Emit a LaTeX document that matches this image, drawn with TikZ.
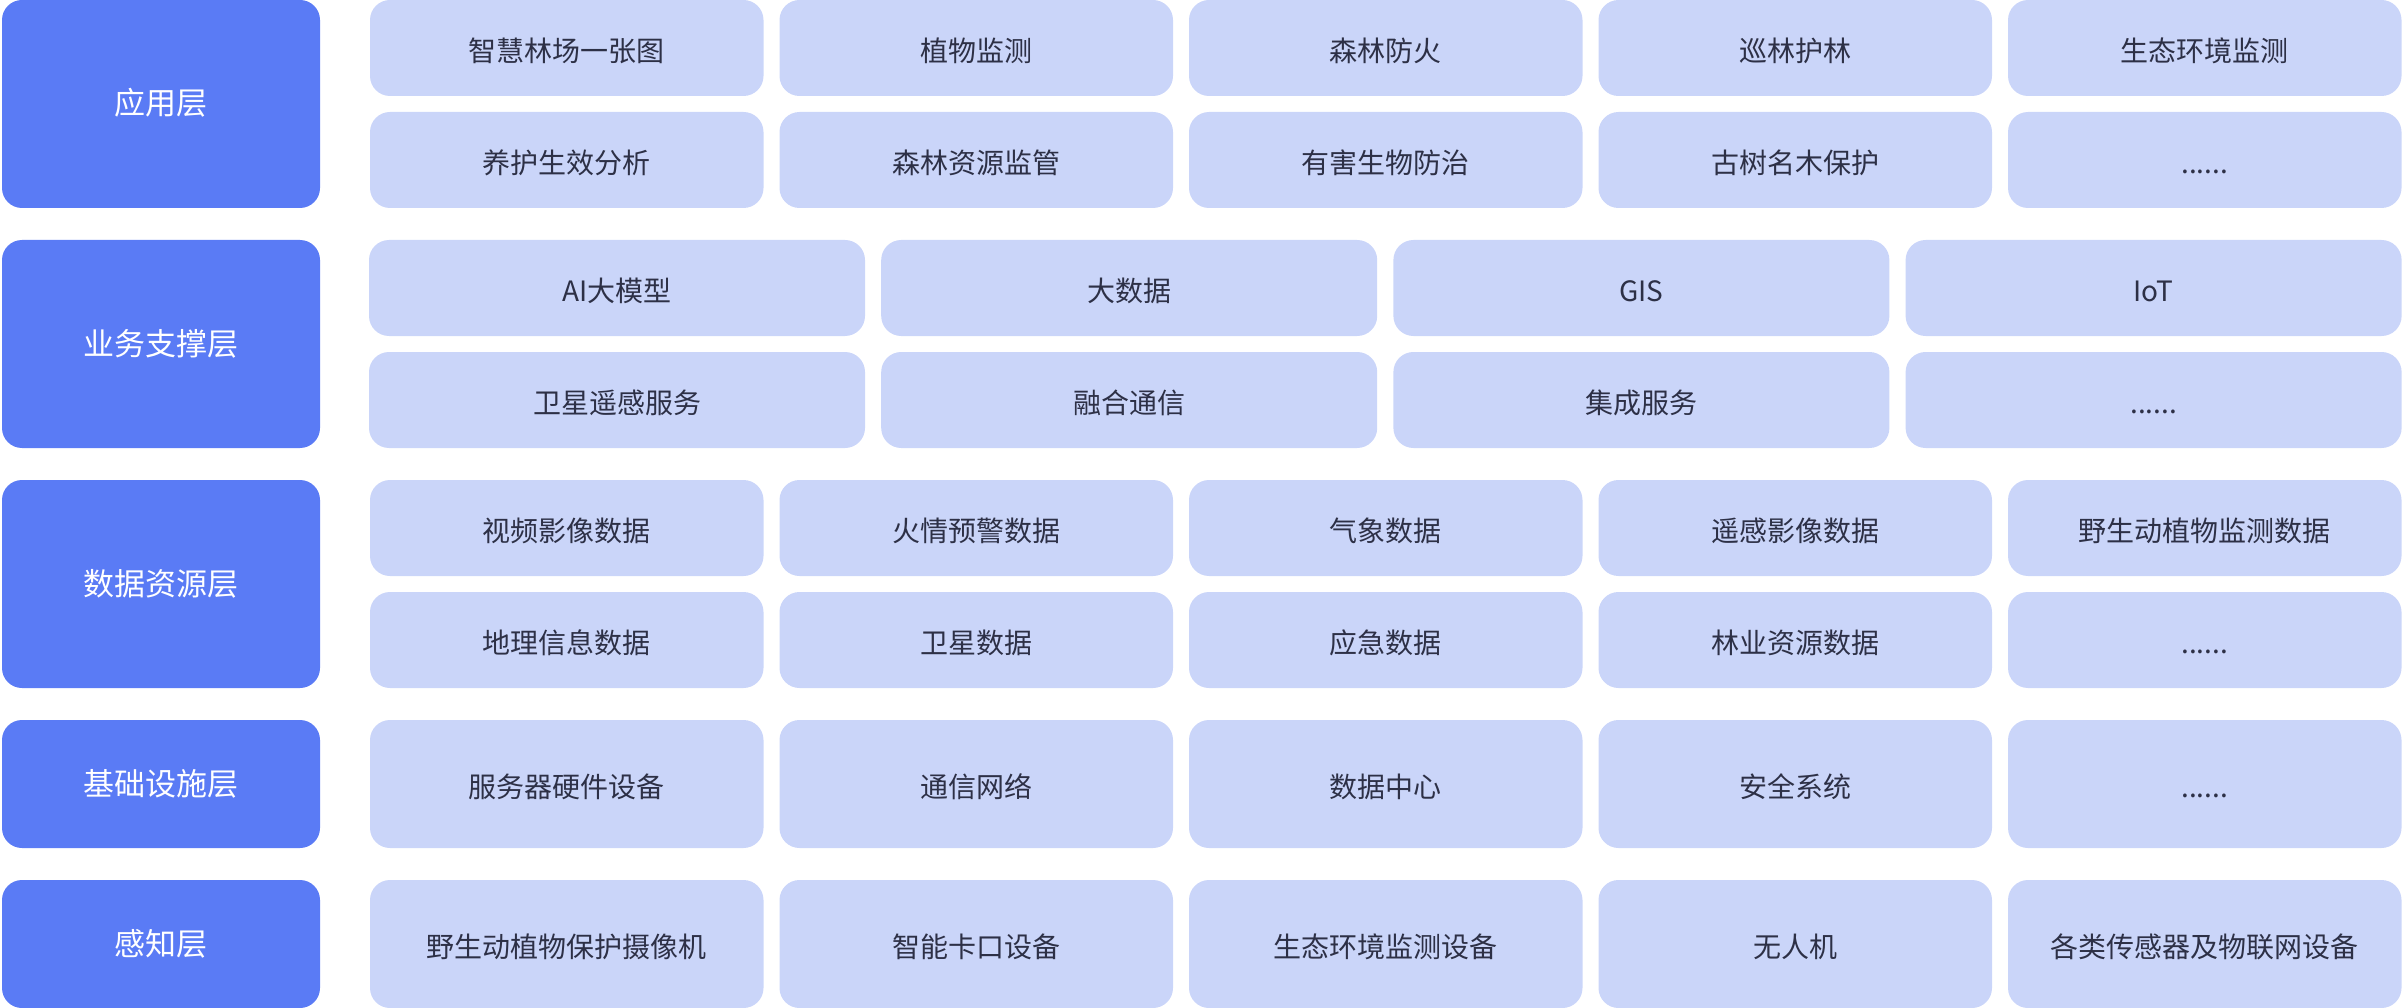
\documentclass[tikz,border=0pt]{standalone}
\usepackage{fontspec}
\setmainfont{Noto Sans CJK SC}
\definecolor{layer}{RGB}{90,123,245}
\definecolor{item}{RGB}{202,213,249}
\definecolor{txt}{RGB}{45,48,70}
\newcommand\mysixdots{......}
\begin{document}
\begin{tikzpicture}[x=1pt,y=-1pt,
  layerbox/.style={fill=layer, rounded corners=20pt, anchor=north west, inner sep=0pt, outer sep=0pt,
    minimum width=318pt, text=white, font=\fontsize{31}{31}\selectfont, text height=22pt, text depth=0pt},
  itembox/.style={fill=item, rounded corners=20pt, anchor=north west, inner sep=0pt, outer sep=0pt,
    text=txt, font=\fontsize{28}{28}\selectfont, text height=27pt, text depth=0pt},
  five/.style={itembox, minimum width=393.5pt},
  four/.style={itembox, minimum width=496pt},
]
\useasboundingbox (0,0) rectangle (2404,1008);

% layer labels
\node[layerbox, minimum height=208pt] (L1) at (2,0) {应用层};
\node[layerbox, minimum height=208pt] (L2) at (2,240) {业务支撑层};
\node[layerbox, minimum height=208pt] (L3) at (2,480) {数据资源层};
\node[layerbox, minimum height=128pt] (L4) at (2,720) {基础设施层};
\node[layerbox, minimum height=128pt] (L5) at (2,880) {感知层};

% application layer
\foreach \t [count=\i from 0] in {智慧林场一张图,植物监测,森林防火,巡林护林,生态环境监测}
  \node[five, minimum height=96pt] (a1\i) at (370+409.5*\i,0) {\t};
\foreach \t [count=\i from 0] in {养护生效分析,森林资源监管,有害生物防治,古树名木保护,\mysixdots}
  \node[five, minimum height=96pt] (a2\i) at (370+409.5*\i,112) {\t};

% business support layer
\foreach \t [count=\i from 0] in {AI大模型,大数据,GIS,IoT}
  \node[four, minimum height=96pt] (b1\i) at (369+512.2*\i,240) {\t};
\foreach \t [count=\i from 0] in {卫星遥感服务,融合通信,集成服务,\mysixdots}
  \node[four, minimum height=96pt] (b2\i) at (369+512.2*\i,352) {\t};

% data resource layer
\foreach \t [count=\i from 0] in {视频影像数据,火情预警数据,气象数据,遥感影像数据,野生动植物监测数据}
  \node[five, minimum height=96pt] (c1\i) at (370+409.5*\i,480) {\t};
\foreach \t [count=\i from 0] in {地理信息数据,卫星数据,应急数据,林业资源数据,\mysixdots}
  \node[five, minimum height=96pt] (c2\i) at (370+409.5*\i,592) {\t};

% infrastructure layer
\foreach \t [count=\i from 0] in {服务器硬件设备,通信网络,数据中心,安全系统,\mysixdots}
  \node[five, minimum height=128pt] (d\i) at (370+409.5*\i,720) {\t};

% perception layer
\foreach \t [count=\i from 0] in {野生动植物保护摄像机,智能卡口设备,生态环境监测设备,无人机,各类传感器及物联网设备}
  \node[five, minimum height=128pt] (e\i) at (370+409.5*\i,880) {\t};
\end{tikzpicture}
\end{document}
